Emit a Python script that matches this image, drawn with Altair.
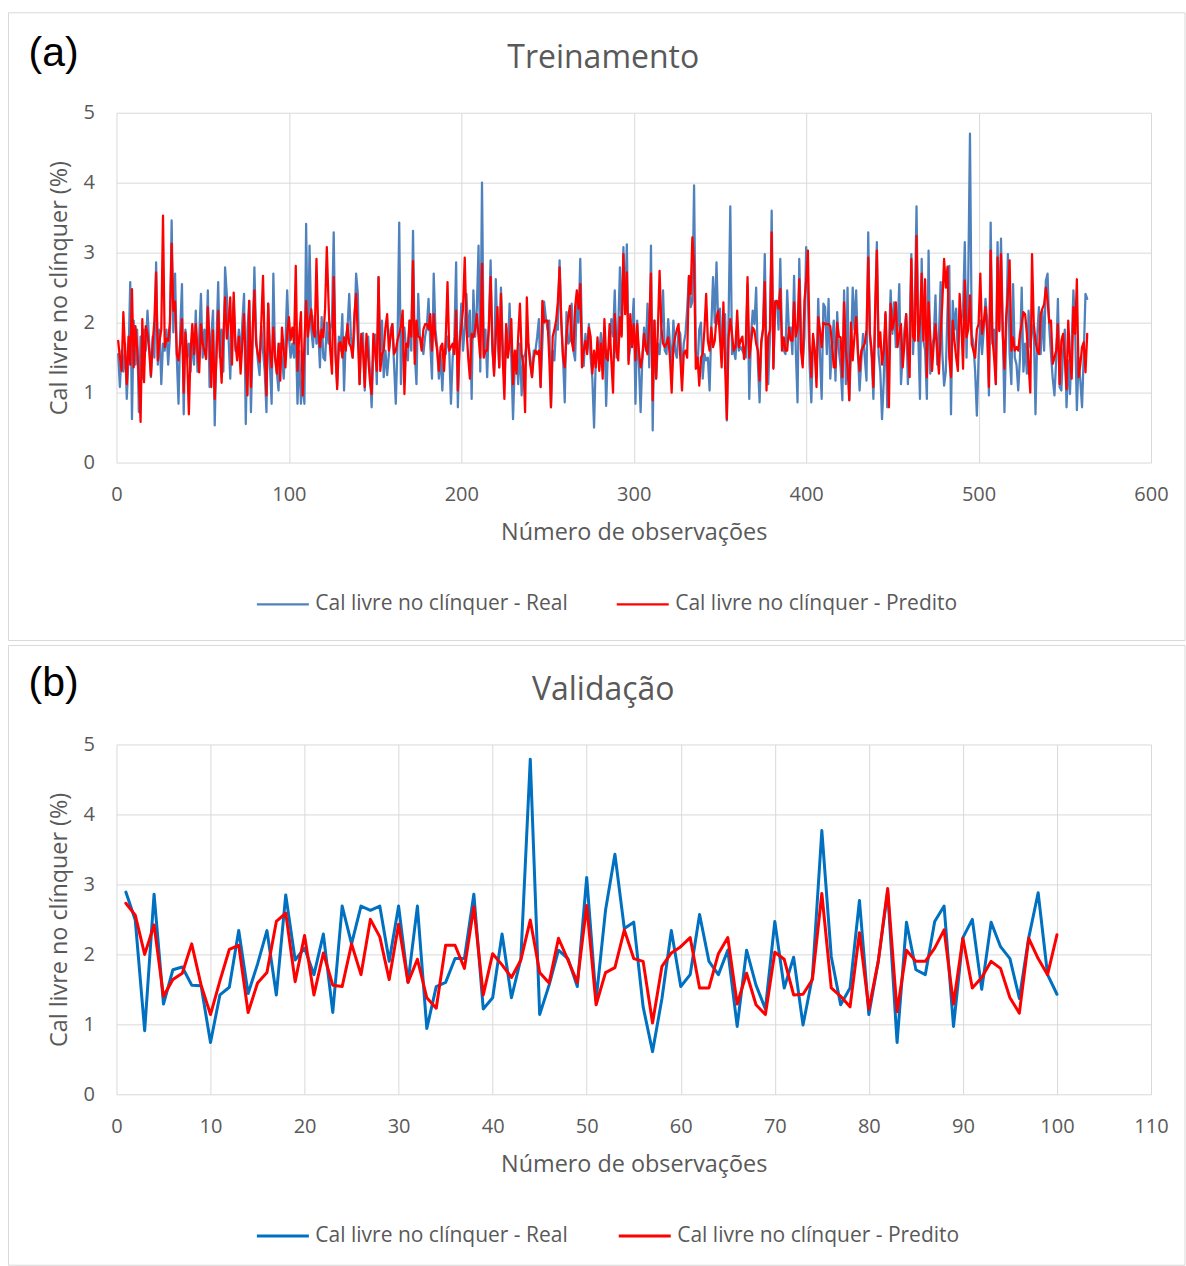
import altair as alt
import pandas as pd

REAL = "Cal livre no clínquer - Real"
PRED = "Cal livre no clínquer - Predito"
X_TITLE = "Número de observações"
Y_TITLE = "Cal livre no clínquer (%)"

panel_tags = ["(a)", "(b)"]
panel_titles = ["Treinamento", "Validação"]

# Training set: measured free lime (%) per observation
train_real = [
    1.55, 1.08, 1.6, 1.3, 1.7, 0.91, 1.5, 2.58, 0.62, 2.03,
    1.4, 1.9, 0.72, 1.8, 1.2, 1.9, 1.6, 2.17, 1.7, 1.22,
    1.8, 1.5, 2.86, 1.4, 1.9, 1.12, 1.7, 1.6, 1.9, 1.4,
    1.8, 3.46, 1.86, 2.70, 1.5, 0.84, 1.9, 2.55, 0.69, 1.9,
    1.5, 1.7, 1.3, 1.8, 1.4, 2.17, 1.3, 1.8, 2.41, 1.5,
    1.9, 1.6, 2.46, 1.08, 1.8, 2.17, 0.53, 1.7, 2.58, 1.5,
    1.9, 1.3, 2.79, 2.4, 1.8, 1.2, 2.0, 2.3, 1.6,
    1.6, 1.9, 1.5, 2.0, 2.41, 0.55, 1.9, 2.31, 0.72, 1.7,
    2.79, 1.8, 1.46, 1.25, 1.95, 1.6, 1.3, 0.72, 2.27, 1.4,
    0.84, 2.70, 1.5, 1.3, 1.03, 1.7, 1.5, 1.2, 1.7, 2.46,
    1.8, 1.5, 1.7, 1.5, 1.9, 0.84, 1.6, 0.84, 1.2, 0.84,
    3.41, 1.55, 3.1, 1.9, 1.65, 2.1, 1.7, 1.9, 1.36, 2.08,
    1.5, 1.46, 2.0, 1.7, 1.9, 2.03, 3.29, 1.55, 1.1, 1.8,
    1.6, 2.12, 1.03, 1.8, 1.93, 2.41, 1.8, 1.5, 1.9,
    2.70, 2.41, 1.12, 1.8, 1.85, 1.03, 1.7, 1.8, 1.3, 0.79,
    1.6, 1.83, 1.12, 2.65, 1.5, 2.03, 1.22, 1.6, 1.25, 1.55,
    1.9, 1.98, 1.4, 0.84, 1.7, 3.43, 1.12, 1.9, 1.93, 1.6,
    1.46, 2.03, 1.6, 3.31, 1.55, 1.12, 2.41, 1.8, 1.74, 1.55,
    1.8, 1.93, 2.34, 1.7, 1.2, 2.70, 1.9, 1.65, 1.2, 1.55,
    1.03, 1.6, 1.55, 1.8, 1.6, 0.84, 1.5, 1.8, 2.86, 0.79,
    1.7, 2.27, 1.6, 1.93, 2.41, 1.8, 2.17, 0.91, 2.46,
    1.8, 2.2, 3.1, 1.3, 4.0, 1.55, 1.9, 1.22, 2.0, 2.89,
    1.6, 1.3, 2.62, 1.8, 1.36, 2.5, 1.7, 1.12, 1.93, 1.6,
    2.27, 1.5, 0.62, 1.4, 1.6, 1.12, 1.7, 0.96, 1.5, 1.55,
    1.7, 1.69, 1.5, 1.22, 1.6, 1.6, 1.8, 2.05, 1.08, 1.7,
    2.3, 2.08, 1.9, 2.03, 0.79, 1.6, 1.46, 1.98, 1.9, 2.89,
    2.03, 1.5, 0.86, 2.15, 1.7, 1.74, 2.27, 1.6, 1.46, 2.31,
    2.0, 2.91, 1.8, 1.38, 1.84, 1.6, 1.98, 1.5, 1.2, 0.5,
    1.5, 1.6, 1.6, 1.85, 1.46, 1.93, 0.81, 1.6, 1.65, 2.05,
    1.8, 2.46, 1.5, 1.9, 2.79, 1.84, 3.08, 2.2, 3.12, 1.46,
    1.65, 1.9, 2.34, 0.84, 2.03, 1.4, 0.72, 1.5, 1.93, 1.6,
    2.27, 1.36, 3.1, 0.46, 2.03, 1.2, 1.7, 1.55, 1.9, 2.46,
    1.6, 1.55, 2.05, 1.7, 1.36, 2.03, 1.6, 1.5, 1.9, 1.84,
    1.27, 1.7, 1.84, 2.2, 2.65, 2.22, 2.3, 3.96, 1.6, 1.36,
    1.9, 2.0, 1.2, 1.55, 1.46, 1.5, 1.03, 1.93, 2.65,
    2.0, 2.86, 1.98, 2.2, 1.6, 1.7, 2.12, 0.6, 2.03, 3.66,
    1.55, 1.6, 1.48, 1.93, 1.6, 1.65, 1.6, 1.55, 1.5, 2.55,
    0.91, 1.8, 2.17, 1.98, 2.5, 1.41, 0.86, 1.7, 1.93, 2.98,
    1.46, 1.12, 1.8, 3.6, 1.36, 2.31, 2.31, 1.9, 2.91, 1.74,
    1.6, 1.55, 2.46, 1.9, 1.93, 1.55, 2.67, 1.6, 0.86, 2.91,
    1.93, 1.41, 1.8, 3.08, 2.41, 1.4, 0.86, 1.74, 1.6, 1.22,
    2.34, 1.55, 0.91, 2.27, 2.22, 1.55, 2.34, 1.2, 1.7, 2.03,
    1.17, 2.15, 1.6, 1.36, 0.89, 2.46, 1.12, 2.5, 0.89, 1.6,
    2.5, 1.9, 2.46, 1.55, 1.03, 1.46, 1.84, 1.5, 1.17, 3.29,
    1.8, 1.5, 0.91, 2.0, 3.15, 1.55, 1.3, 0.62, 1.17, 2.12,
    0.79, 1.7, 2.46, 1.84, 2.29, 1.65, 1.9, 2.55, 1.12, 1.55,
    1.9, 2.12, 1.12, 1.9, 2.98, 1.55, 2.2, 3.66, 1.84, 0.91,
    2.91, 1.74, 1.6, 0.91, 3.03, 1.27, 1.65, 1.79, 2.39, 1.4,
    1.8, 2.58, 1.55, 1.1, 1.3, 2.2, 2.81, 0.69, 2.31,
    1.9, 2.2, 1.5, 2.0, 2.03, 2.2, 3.15, 1.5, 2.6, 4.7,
    1.84, 1.7, 1.3, 0.67, 1.5, 2.03, 1.55, 1.9, 2.34, 2.03,
    0.96, 3.43, 1.7, 1.9, 1.12, 3.15, 1.9, 3.2, 1.93, 0.72,
    1.84, 2.98, 1.55, 1.12, 2.55, 1.5, 1.4, 1.03, 1.5, 2.5,
    1.3, 1.7, 1.27, 2.17, 1.65, 1.9, 1.98, 0.69, 1.8, 2.22,
    1.55, 2.17, 1.6, 2.6, 2.7, 1.93, 1.55, 1.2, 0.96, 1.46,
    2.34, 1.08, 1.03, 1.6, 1.9, 0.79, 1.46, 0.98, 1.7, 2.46,
    1.9, 0.75, 1.5, 1.17, 0.79, 1.55, 2.41, 2.34,
]

# Training set: model prediction (%)
train_pred = [
    1.74, 1.5, 1.31, 2.15, 1.6, 1.12, 1.8, 1.4, 2.48, 1.36,
    1.95, 1.65, 1.2, 0.58, 2.05, 1.15, 1.95, 1.84, 1.6, 1.24,
    1.7, 2.03, 2.72, 1.46, 1.74, 1.9, 3.53, 1.65, 1.77, 1.74,
    2.0, 3.13, 2.17, 2.3, 1.55, 1.46, 1.7, 2.05, 1.0, 1.86,
    1.5, 0.69, 1.6, 1.98, 1.55, 1.98, 1.6, 1.29, 1.98, 1.7,
    1.6, 1.48, 2.22, 1.74, 1.08, 1.89, 0.91, 1.5, 2.17, 1.6,
    1.14, 1.8, 2.36, 1.77, 2.0, 2.36, 1.4, 2.43, 1.7,
    1.46, 1.8, 1.27, 1.7, 2.12, 1.4, 0.96, 2.31, 1.08, 1.9,
    2.46, 1.7, 1.55, 1.44, 2.0, 2.67, 1.6, 0.96, 2.27, 1.6,
    1.36, 1.93, 1.5, 1.27, 1.7, 1.17, 1.93, 1.6, 1.36, 1.84,
    2.08, 1.75, 1.93, 1.7, 2.81, 1.31, 1.8, 2.15, 0.96, 1.7,
    2.31, 1.8, 2.03, 2.19, 1.9, 1.8, 2.91, 1.9, 1.65, 1.9,
    1.79, 2.2, 3.08, 2.29, 1.6, 1.27, 2.65, 1.6, 1.05, 1.7,
    1.72, 1.5, 1.79, 1.6, 1.98, 1.7, 1.65, 1.5, 2.12,
    2.41, 1.8, 1.12, 1.84, 1.6, 1.08, 1.84, 1.5, 1.17, 0.98,
    1.84, 1.6, 1.31, 2.65, 1.31, 1.55, 1.6, 1.93, 2.12, 1.6,
    1.8, 1.98, 1.55, 1.6, 1.75, 1.84, 1.95, 2.17, 0.98, 1.7,
    1.65, 2.03, 1.8, 2.88, 1.41, 2.03, 1.8, 1.79, 1.6, 1.9,
    1.98, 1.98, 1.9, 2.12, 1.6, 2.12, 1.77, 1.6, 1.31, 1.65,
    1.7, 1.31, 1.8, 2.58, 1.6, 1.65, 1.7, 1.55, 2.17, 1.03,
    1.7, 1.93, 2.2, 2.93, 1.93, 1.5, 1.2, 1.84, 1.79,
    1.9, 2.12, 1.8, 1.5, 2.84, 1.5, 1.6, 1.6, 1.93, 2.65,
    1.7, 1.24, 1.8, 2.22, 1.36, 2.41, 1.5, 0.91, 1.98, 1.5,
    1.7, 2.05, 1.12, 1.6, 1.27, 1.8, 2.27, 1.55, 1.4, 0.72,
    2.36, 1.65, 1.4, 1.22, 1.5, 1.6, 1.55, 1.6, 1.08, 2.31,
    2.0, 2.03, 2.03, 1.5, 0.79, 1.8, 1.9, 2.03, 2.3, 2.79,
    2.0, 1.5, 1.36, 1.8, 2.08, 2.24, 1.74, 1.6, 2.22, 2.46,
    2.2, 2.55, 1.36, 1.6, 1.74, 1.55, 1.93, 1.8, 1.27, 1.6,
    1.36, 1.79, 1.31, 1.7, 1.2, 2.05, 1.5, 1.46, 1.98, 1.46,
    1.0, 2.12, 1.6, 1.46, 2.08, 1.8, 2.98, 2.12, 2.72, 1.41,
    2.12, 1.65, 1.98, 1.46, 1.98, 1.6, 1.36, 1.5, 1.84, 1.65,
    1.55, 2.0, 2.70, 0.89, 2.03, 1.2, 1.9, 2.74, 1.93, 1.7,
    1.65, 1.7, 1.79, 1.5, 1.0, 1.65, 1.79, 1.9, 1.98, 1.5,
    1.03, 1.55, 1.6, 1.5, 2.67, 2.41, 3.22, 2.84, 1.34, 1.5,
    1.1, 1.5, 1.55, 1.9, 2.41, 1.74, 1.6, 1.93, 1.65,
    1.74, 2.08, 2.17, 1.79, 1.36, 2.29, 1.36, 0.62, 1.79, 2.05,
    1.84, 1.6, 1.65, 2.17, 1.65, 1.75, 1.8, 1.48, 1.7, 2.65,
    1.5, 1.7, 1.93, 1.89, 1.7, 1.6, 1.17, 1.74, 1.9, 2.58,
    1.03, 1.8, 1.89, 3.29, 1.34, 2.29, 2.31, 2.2, 2.48, 1.6,
    1.79, 1.6, 1.6, 1.93, 1.75, 1.74, 2.29, 1.8, 1.93, 2.62,
    1.6, 1.36, 2.31, 2.6, 3.03, 1.7, 1.22, 1.84, 1.6, 1.08,
    2.08, 1.9, 1.65, 2.0, 1.98, 1.98, 1.98, 1.95, 1.7, 1.36,
    1.36, 2.0, 1.8, 1.79, 1.22, 2.29, 1.6, 1.36, 0.89, 2.0,
    1.46, 1.8, 2.08, 1.6, 1.31, 1.6, 1.65, 1.7, 1.9, 2.93,
    1.84, 1.6, 1.08, 2.2, 3.03, 1.65, 1.86, 1.4, 1.6, 2.15,
    1.5, 0.79, 2.27, 1.9, 2.03, 2.29, 1.65, 1.84, 1.98, 1.36,
    1.7, 2.12, 1.6, 1.22, 2.91, 1.8, 1.74, 3.24, 1.74, 2.0,
    2.7, 1.74, 2.62, 1.22, 2.29, 1.8, 1.31, 1.7, 1.98, 1.6,
    1.27, 1.84, 2.3, 2.91, 2.5, 2.8, 1.5, 1.22, 2.03,
    1.74, 1.5, 1.31, 2.41, 1.98, 1.34, 2.6, 1.79, 1.9, 2.39,
    1.7, 1.6, 1.5, 1.9, 1.98, 2.70, 1.84, 2.0, 2.22, 1.84,
    1.08, 3.03, 1.79, 1.5, 1.12, 2.93, 1.88, 2.98, 1.84, 1.34,
    2.08, 2.4, 2.89, 1.6, 1.79, 1.6, 1.65, 1.6, 1.84, 1.98,
    2.15, 2.12, 1.84, 1.4, 1.0, 2.98, 1.98, 1.74, 1.6, 1.55,
    2.12, 2.2, 2.26, 2.5, 2.31, 2.0, 2.03, 1.41, 1.5, 1.6,
    1.98, 1.12, 1.74, 1.84, 1.5, 1.05, 2.03, 1.5, 1.2, 2.22,
    1.84, 2.62, 1.22, 1.4, 1.65, 1.72, 1.29, 1.84,
]

# Validation set
valid_real = [
    2.89, 2.49, 0.91, 2.86, 1.29, 1.78, 1.82, 1.56, 1.55, 0.74,
    1.42, 1.53, 2.34, 1.44, 1.86, 2.34, 1.42, 2.85, 1.92, 2.09,
    1.71, 2.29, 1.17, 2.69, 2.15, 2.69, 2.63, 2.69, 1.90, 2.69,
    1.60, 2.69, 0.94, 1.54, 1.60, 1.94, 1.94, 2.86, 1.22, 1.38,
    2.29, 1.38, 1.94, 4.79, 1.14, 1.56, 2.06, 1.94, 1.54, 3.10,
    1.35, 2.63, 3.43, 2.37, 2.46, 1.25, 0.61, 1.37, 2.34, 1.54,
    1.71, 2.57, 1.90, 1.71, 2.06, 0.97, 2.06, 1.56, 1.22, 2.47,
    1.52, 1.96, 0.99, 1.68, 3.77, 1.97, 1.28, 1.52, 2.77, 1.14,
    1.90, 2.90, 0.74, 2.46, 1.78, 1.71, 2.47, 2.69, 0.97, 2.24,
    2.50, 1.50, 2.46, 2.11, 1.94, 1.37, 2.24, 2.88, 1.71, 1.43,
]

valid_pred = [
    2.73, 2.56, 2.00, 2.42, 1.40, 1.64, 1.73, 2.15, 1.56, 1.14,
    1.62, 2.07, 2.13, 1.17, 1.59, 1.74, 2.47, 2.59, 1.61, 2.27,
    1.42, 2.02, 1.56, 1.54, 2.15, 1.71, 2.50, 2.25, 1.64, 2.43,
    1.60, 1.93, 1.38, 1.23, 2.13, 2.13, 1.80, 2.68, 1.42, 2.01,
    1.85, 1.67, 1.92, 2.49, 1.74, 1.59, 2.23, 1.92, 1.60, 2.70,
    1.28, 1.74, 1.81, 2.35, 1.94, 1.90, 1.02, 1.83, 2.02, 2.11,
    2.24, 1.52, 1.52, 2.01, 2.24, 1.29, 1.73, 1.28, 1.14, 2.03,
    1.93, 1.42, 1.43, 1.64, 2.87, 1.52, 1.40, 1.25, 2.31, 1.22,
    1.90, 2.94, 1.18, 2.06, 1.90, 1.90, 2.09, 2.35, 1.29, 2.23,
    1.52, 1.67, 1.90, 1.80, 1.38, 1.16, 2.23, 1.94, 1.71, 2.28,
]

TEXT_FONT = "Open Sans"
TEXT_GRAY = "#595959"
GRID_GRAY = "#d9d9d9"
PLOT_W = 1035
PLOT_H = 350


def build_panel(real, pred, x_max, x_step, tag, heading, blue, line_width,
                frame_top, frame_bottom, tag_y, heading_y):
    df = pd.DataFrame({
        "obs": list(range(1, len(real) + 1)),
        "real": real,
        "pred": pred,
    })

    x_enc = alt.X(
        "obs:Q",
        scale=alt.Scale(domain=[0, x_max], nice=False),
        axis=alt.Axis(values=list(range(0, x_max + 1, x_step)), title=X_TITLE,
                      labelFlush=False, labelPadding=22, titlePadding=17),
    )
    y_scale = alt.Scale(domain=[0, 5], nice=False)
    y_axis = alt.Axis(values=[0, 1, 2, 3, 4, 5], title=Y_TITLE,
                      labelPadding=22, titlePadding=12)

    colors = alt.Scale(domain=[REAL, PRED], range=[blue, "#FF0000"])
    legend = alt.Legend(
        title=None, orient="none", legendX=139, legendY=464,
        direction="horizontal", columns=2, columnPadding=44,
        symbolType="stroke", symbolSize=2704, symbolStrokeWidth=line_width,
        labelFont=TEXT_FONT, labelFontSize=21, labelColor=TEXT_GRAY,
        labelOffset=5, labelLimit=400, padding=0,
    )
    color_enc = alt.Color("series:N", scale=colors, legend=legend)

    base = alt.Chart(df)
    real_line = base.transform_calculate(series=f"'{REAL}'").mark_line(
        strokeWidth=line_width, strokeJoin="round", strokeCap="round"
    ).encode(
        x=x_enc,
        y=alt.Y("real:Q", scale=y_scale, axis=y_axis),
        color=color_enc,
    )
    pred_line = base.transform_calculate(series=f"'{PRED}'").mark_line(
        strokeWidth=line_width, strokeJoin="round", strokeCap="round"
    ).encode(
        x=x_enc,
        y=alt.Y("pred:Q", scale=y_scale, axis=y_axis),
        color=color_enc,
    )

    # light border around the whole chart area
    frame = alt.Chart(pd.DataFrame({"k": [0]})).mark_rect(
        fillOpacity=0, stroke=GRID_GRAY, strokeWidth=1
    ).encode(
        x=alt.value(-108), x2=alt.value(1069),
        y=alt.value(frame_top), y2=alt.value(frame_bottom),
    )

    tag_mark = alt.Chart(pd.DataFrame({"label": [tag]})).mark_text(
        font="Liberation Sans", fontSize=41, align="left", baseline="middle",
        color="black",
    ).encode(x=alt.value(-88), y=alt.value(tag_y), text="label:N")

    heading_mark = alt.Chart(pd.DataFrame({"label": [heading]})).mark_text(
        font=TEXT_FONT, fontSize=32, align="center", baseline="middle",
        color=TEXT_GRAY,
    ).encode(x=alt.value(487), y=alt.value(heading_y), text="label:N")

    return alt.layer(frame, real_line, pred_line, tag_mark, heading_mark).properties(
        width=PLOT_W, height=PLOT_H
    )


top = build_panel(train_real, train_pred, 600, 100, panel_tags[0], panel_titles[0],
                  "#4F81BD", 2.25, -100, 528, -59, -55)
bottom = build_panel(valid_real, valid_pred, 110, 10, panel_tags[1], panel_titles[1],
                     "#0070C0", 3, -99, 521, -60, -54)

chart = alt.vconcat(top, bottom, spacing=282, bounds="flush").resolve_scale(
    x="independent", y="independent", color="independent"
).resolve_legend(color="independent").properties(
    padding={"left": 7.5, "top": 11.5, "right": 0, "bottom": 0},
    background="white",
).configure_view(stroke=None).configure_axis(
    grid=True, gridColor=GRID_GRAY, gridWidth=1, domain=False, ticks=False,
    labelFont=TEXT_FONT, labelFontSize=20, labelColor=TEXT_GRAY,
    titleFont=TEXT_FONT, titleFontSize=23.4, titleColor=TEXT_GRAY,
    titleFontWeight="normal",
)

chart.save("out.html", embed_options={"renderer": "svg", "actions": False})
